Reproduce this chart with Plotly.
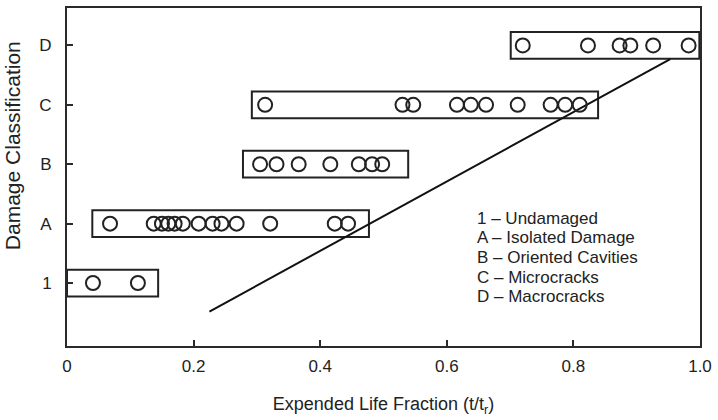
import plotly.graph_objects as go

# Damage classes, bottom to top
classes = ["1", "A", "B", "C", "D"]
class_pos = [0, 1, 2, 3, 4]

# Expended life fraction of each observation, per class
life_1 = [0.041, 0.112]
life_A = [0.068, 0.137, 0.150, 0.160, 0.170, 0.183, 0.208, 0.230, 0.244,
          0.268, 0.321, 0.423, 0.444]
life_B = [0.305, 0.331, 0.366, 0.416, 0.461, 0.482, 0.498]
life_C = [0.313, 0.530, 0.547, 0.616, 0.638, 0.662, 0.712, 0.764, 0.787, 0.810]
life_D = [0.720, 0.823, 0.873, 0.890, 0.926, 0.982]
series = [life_1, life_A, life_B, life_C, life_D]

# Range enclosed by each class band
band_lo = [0.0, 0.040, 0.278, 0.292, 0.701]
band_hi = [0.144, 0.477, 0.539, 0.839, 0.999]

# Trend line end points (life fraction, class position)
trend_x = [0.225, 0.953]
trend_y = [-0.48, 3.77]

legend_lines = [
    "1 – Undamaged",
    "A – Isolated Damage",
    "B – Oriented Cavities",
    "C – Microcracks",
    "D – Macrocracks",
]

ink = "#222222"
font = "Liberation Sans, Arial, sans-serif"
fsize = 17

fig = go.Figure()

half_h = 0.225
for lo, hi, yc in zip(band_lo, band_hi, class_pos):
    fig.add_shape(type="rect", xref="x", yref="y", x0=lo, x1=hi,
                  y0=yc - half_h, y1=yc + half_h,
                  line=dict(color=ink, width=2), layer="below")

fig.add_trace(go.Scatter(x=trend_x, y=trend_y, mode="lines",
                         line=dict(color="#111111", width=2),
                         hoverinfo="skip", showlegend=False))

for vals, yc in zip(series, class_pos):
    fig.add_trace(go.Scatter(
        x=vals, y=[yc] * len(vals), mode="markers", showlegend=False,
        marker=dict(symbol="circle-open", size=14, color=ink,
                    line=dict(width=2, color=ink))))

# Key listing the class codes, one line each
key_top = 1.09
key_step = 0.33
for i, line in enumerate(legend_lines):
    fig.add_annotation(
        xref="x", yref="y", x=0.645, y=key_top - i * key_step,
        xanchor="left", yanchor="middle", text=line, showarrow=False,
        font=dict(family=font, size=fsize, color="#222222"))

# Vertical axis title, set a little above the plot's mid-height
fig.add_annotation(
    xref="paper", yref="paper", x=-0.087, y=0.594, textangle=-90,
    xanchor="center", yanchor="middle", text="Damage Classification",
    showarrow=False, font=dict(family=font, size=21, color="#222222"))

axis_common = dict(showline=True, mirror=True, linecolor="#2a2a2a",
                   linewidth=2, ticks="inside", ticklen=6, tickwidth=2,
                   tickcolor="#2a2a2a", showgrid=False, zeroline=False,
                   tickfont=dict(family=font, size=fsize, color="#222222"))

fig.update_xaxes(range=[0, 1.0], tickvals=[0, 0.2, 0.4, 0.6, 0.8, 1.0],
                 ticktext=["0", "0.2", "0.4", "0.6", "0.8", "1.0"],
                 ticklabelstandoff=4,
                 title=dict(text="Expended Life Fraction (t/t<sub>r</sub>)",
                            font=dict(family=font, size=18, color="#222222"),
                            standoff=22),
                 **axis_common)
fig.update_yaxes(range=[-1.06, 4.63], tickvals=class_pos, ticktext=classes,
                 ticklabelstandoff=10, **axis_common)

fig.update_layout(width=718, height=420,
                  margin=dict(l=67, r=18, t=6, b=74),
                  plot_bgcolor="white", paper_bgcolor="white")

fig.write_html("out.html")
